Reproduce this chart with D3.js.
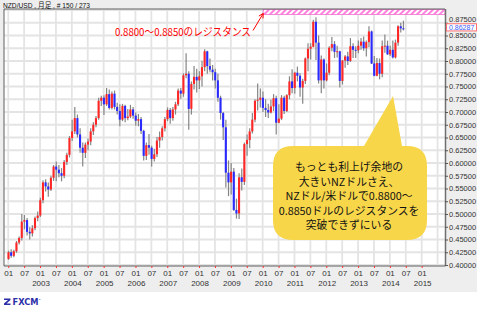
<!DOCTYPE html>
<html><head><meta charset="utf-8">
<script src="https://cdn.jsdelivr.net/npm/d3@7"></script>
<style>body{margin:0;background:#fff}svg{display:block}</style>
</head><body><svg id="c" width="477" height="311"></svg>
<script>
// ---------- data (monthly candles, first = Jan 2002) ----------
const firstYear = 2002;
const opens = [
.4120,.4250,.4180,.4270,.4440,.4530,.4850,.4880,.4650,.4620,.4720,.4920,
.4970,.5270,.5620,.5540,.5480,.5710,.5930,.5870,.5800,.5750,.6020,.6160,
.6490,.6620,.6880,.6560,.6300,.6200,.6360,.6420,.6620,.6750,.6880,.7220,
.7280,.7150,.7350,.7080,.7360,.7100,.7020,.6850,.7120,.6880,.6910,.7050,
.6930,.6830,.6860,.6630,.6140,.6350,.6300,.6080,.6170,.6440,.6510,.6680,
.6860,.7040,.6880,.7050,.7150,.7420,.7360,.7720,.7750,.7060,.7550,.7690,
.7620,.7700,.7880,.8190,.7900,.7830,.7780,.7620,.7280,.6980,.6700,.5810,
.5620,.5830,.5080,.5010,.5720,.5630,.6370,.6450,.6620,.6850,.7220,.7240,
.7280,.7080,.7040,.6990,.7110,.7270,.6790,.6870,.7280,.7020,.7330,.7600,
.7470,.7770,.7710,.7480,.7610,.8050,.8240,.8280,.8770,.8360,.7620,.8030,
.7620,.7770,.8260,.8330,.8180,.8190,.7610,.8010,.8090,.8000,.8290,.8220,
.8210,.8300,.8380,.8250,.8370,.8580,.7950,.7710,.7960,.7750,.8290,.8300,
.8130,.8220,.8070,.8360,.8680,.8640];
const highs = [
.4280,.4310,.4300,.4470,.4560,.5000,.4980,.4920,.4740,.4780,.4950,.5050,
.5320,.5660,.5680,.5620,.5750,.5960,.6030,.5960,.5900,.6060,.6200,.6530,
.6850,.7100,.6950,.6680,.6400,.6400,.6480,.6680,.6800,.6920,.7280,.7320,
.7330,.7470,.7440,.7400,.7420,.7180,.7150,.7160,.7140,.7060,.7140,.7100,
.6990,.6960,.6900,.6650,.6400,.6570,.6340,.6280,.6510,.6620,.6720,.6900,
.7090,.7080,.7100,.7200,.7460,.7470,.7760,.8150,.7800,.7600,.7900,.7850,
.7800,.8000,.8230,.8200,.8050,.7920,.7850,.7750,.7320,.7000,.6850,.6050,
.6000,.5900,.5300,.5800,.5890,.6400,.6560,.6680,.6980,.7250,.7560,.7460,
.7400,.7250,.7160,.7240,.7350,.7320,.7150,.7330,.7320,.7350,.7700,.7840,
.7790,.7890,.7760,.7650,.8070,.8350,.8350,.8810,.8860,.8500,.8110,.8050,
.7950,.8290,.8470,.8390,.8300,.8200,.8020,.8120,.8180,.8450,.8350,.8290,
.8400,.8450,.8480,.8400,.8680,.8600,.8100,.8060,.8050,.8400,.8520,.8400,
.8300,.8400,.8420,.8700,.8750,.8790];
const lows = [
.4100,.4140,.4150,.4240,.4400,.4480,.4700,.4580,.4500,.4560,.4680,.4860,
.4940,.5210,.5440,.5340,.5450,.5650,.5640,.5720,.5640,.5700,.5960,.6110,
.6430,.6570,.6500,.6200,.5930,.6100,.6250,.6350,.6550,.6700,.6850,.7120,
.6940,.7120,.7050,.7050,.7050,.6950,.6720,.6820,.6800,.6840,.6880,.6870,
.6730,.6720,.6570,.6050,.6060,.6160,.5930,.6030,.6120,.6300,.6440,.6620,
.6820,.6770,.6830,.6950,.7120,.7260,.7300,.7660,.6650,.6950,.7440,.7380,
.7450,.7500,.7800,.7750,.7780,.7620,.7460,.7200,.6850,.6450,.5520,.5350,
.5380,.5060,.4910,.4900,.5460,.5570,.6140,.6290,.6580,.6800,.7030,.7090,
.7000,.6900,.6880,.6970,.7020,.6560,.6780,.6840,.6960,.7000,.7250,.7370,
.7360,.7600,.7300,.7160,.7550,.7800,.8030,.8270,.8020,.7560,.7370,.7460,
.7600,.7720,.8190,.8060,.8070,.7480,.7540,.7870,.7920,.7980,.8060,.8060,
.8150,.8220,.8200,.8090,.8270,.7940,.7700,.7700,.7640,.7680,.8160,.8120,
.8100,.8050,.8050,.8300,.8560,.8600];
const closes = [
.4250,.4180,.4270,.4440,.4530,.4850,.4880,.4650,.4620,.4720,.4920,.4970,
.5270,.5620,.5540,.5480,.5710,.5930,.5870,.5800,.5750,.6020,.6160,.6490,
.6620,.6880,.6560,.6300,.6200,.6360,.6420,.6620,.6750,.6880,.7220,.7280,
.7150,.7350,.7080,.7360,.7100,.7020,.6850,.7120,.6880,.6910,.7050,.6930,
.6830,.6860,.6630,.6140,.6350,.6300,.6080,.6170,.6440,.6510,.6680,.6860,
.7040,.6880,.7050,.7150,.7420,.7360,.7720,.7750,.7060,.7550,.7690,.7620,
.7700,.7880,.8190,.7900,.7830,.7780,.7620,.7280,.6980,.6700,.5810,.5620,
.5830,.5080,.5010,.5720,.5630,.6370,.6450,.6620,.6850,.7220,.7240,.7280,
.7080,.7040,.6990,.7110,.7270,.6790,.6870,.7280,.7020,.7330,.7600,.7470,
.7770,.7710,.7480,.7610,.8050,.8240,.8280,.8770,.8360,.7620,.8030,.7620,
.7770,.8260,.8330,.8180,.8190,.7610,.8010,.8090,.8000,.8290,.8220,.8210,
.8300,.8380,.8250,.8370,.8580,.7950,.7710,.7960,.7750,.8290,.8300,.8130,
.8220,.8070,.8360,.8680,.8640,.8629];

const yTicks = [0.400,0.425,0.450,0.475,0.500,0.525,0.550,0.575,0.600,0.625,
                0.650,0.675,0.700,0.725,0.750,0.775,0.800,0.825,0.850,0.875];
const monthTickLabels = ["01","07"];
const yearLabels = ["2003","2004","2005","2006","2007","2008","2009","2010","2011","2012","2013","2014","2015"];
const lastPrice = 0.86287;
const titleText = "NZD/USD , 月足 , # 150 / 273";
const resistanceNote = "0.8800～0.8850のレジスタンス";
const resistanceBand = [0.8912, 0.9010];   // band as drawn at the top of the chart
const bandStartIndex = 96.2;
const calloutLines = ["もっとも利上げ余地の","大きいNZドルさえ、","NZドル/米ドルで0.8800～","0.8850ドルのレジスタンスを","突破できずにいる"];
const calloutAnchor = {index: 145.2, value: 0.7315};

// ---------- layout ----------
const W = 477, H = 311;
const P = {left: 4, right: 445, top: 9, bottom: 266};
const svg = d3.select("#c");
const x = d3.scaleLinear().domain([-1.6, 164.8]).range([P.left, P.right]);
const y = d3.scaleLinear().domain([0.4, 0.8]).range([265, 61]);
const data = opens.map((o, i) => ({i, o, h: highs[i], l: lows[i], c: closes[i]}));
const sans = "Liberation Sans, Arial, sans-serif";
const cjk = "Noto Sans CJK JP, sans-serif";

// backgrounds
svg.append("rect").attr("width", W).attr("height", 292).attr("fill", "#eeeeee");
svg.append("rect").attr("y", 292).attr("width", W).attr("height", H - 292).attr("fill", "#ffffff");
svg.append("rect").attr("x", P.left).attr("y", P.top).attr("width", P.right - P.left)
   .attr("height", P.bottom - P.top).attr("fill", "#ffffff");

const defs = svg.append("defs");
const pat = defs.append("pattern").attr("id", "hatch").attr("patternUnits", "userSpaceOnUse")
  .attr("width", 4).attr("height", 4).attr("patternTransform", "rotate(45)");
pat.append("rect").attr("width", 4).attr("height", 4).attr("fill", "#ffffff");
pat.append("rect").attr("width", 2).attr("height", 4).attr("fill", "#ff80dd");
defs.append("clipPath").attr("id", "plotclip").append("rect")
  .attr("x", P.left).attr("y", P.top).attr("width", P.right - P.left).attr("height", P.bottom - P.top);

// grid
const tickIdx = d3.range(0, 157, 6);
const grid = svg.append("g").attr("clip-path", "url(#plotclip)");
grid.selectAll("line.v").data(d3.range(0, 165, 6)).join("line")
  .attr("x1", d => x(d)).attr("x2", d => x(d)).attr("y1", P.top).attr("y2", P.bottom)
  .attr("stroke", "#e4e4e4").attr("stroke-width", 1.8);
grid.selectAll("line.h").data(yTicks.concat([0.9])).join("line")
  .attr("x1", P.left).attr("x2", P.right).attr("y1", d => y(d)).attr("y2", d => y(d))
  .attr("stroke", "#e4e4e4").attr("stroke-width", 1.8);

// resistance band
svg.append("rect").attr("x", x(bandStartIndex)).attr("y", y(resistanceBand[1]))
  .attr("width", P.right - x(bandStartIndex)).attr("height", y(resistanceBand[0]) - y(resistanceBand[1]))
  .attr("fill", "url(#hatch)").attr("stroke", "#f070d0").attr("stroke-width", 0.8);

// candles
const cg = svg.append("g").attr("clip-path", "url(#plotclip)");
cg.selectAll("line.wick").data(data).join("line")
  .attr("x1", d => x(d.i) + 0.3).attr("x2", d => x(d.i) + 0.3)
  .attr("y1", d => y(d.h)).attr("y2", d => y(d.l))
  .attr("stroke", "#858585").attr("stroke-width", 1.2);
cg.selectAll("rect.body").data(data).join("rect")
  .attr("x", d => x(d.i) - 0.8).attr("width", 2.1)
  .attr("y", d => y(Math.max(d.o, d.c)))
  .attr("height", d => Math.max(1, Math.abs(y(d.o) - y(d.c))))
  .attr("fill", d => d.c >= d.o ? "#ff2626" : "#2a2aff");

// frame
const frame = svg.append("g").attr("stroke", "#606060").attr("stroke-width", 1);
frame.append("line").attr("x1", P.left).attr("x2", P.left).attr("y1", P.top).attr("y2", P.bottom);
frame.append("line").attr("x1", P.left).attr("x2", P.right).attr("y1", P.top).attr("y2", P.top);
frame.append("line").attr("x1", P.left).attr("x2", P.right + 0.5).attr("y1", P.bottom).attr("y2", P.bottom);

// right axis
const yAxis = svg.append("g").attr("transform", `translate(${P.right},0)`)
  .call(d3.axisRight(y).tickValues(yTicks).tickFormat(d3.format(".5f")).tickSize(3).tickPadding(1));
yAxis.select(".domain").attr("stroke", "#707070").attr("stroke-width", 1.5)
  .attr("d", `M0.5,${P.top}V${P.bottom}`);
yAxis.selectAll(".tick line").attr("stroke", "#555");
yAxis.selectAll("text").attr("font-family", sans).attr("font-size", 7.5).attr("fill", "#333");
// the top label is nudged up to make room for the last-price box, as in the source
yAxis.selectAll(".tick").filter(d => Math.abs(d - 0.875) < 1e-6)
  .select("text").attr("y", -3.2);

// last price label
const lpY = y(lastPrice) - 1.6;
const lp = svg.append("g").attr("transform", `translate(${P.right + 1},${lpY})`);
lp.append("rect").attr("x", 0.5).attr("y", -3.6).attr("width", 30).attr("height", 7.2)
  .attr("fill", "#ffffff").attr("stroke", "#ff7070").attr("stroke-width", 1);
lp.append("text").attr("x", 3).attr("y", 0).attr("dy", "0.32em").text(d3.format(".5f")(lastPrice))
  .attr("font-family", sans).attr("font-size", 7).attr("fill", "#4060ff");

// bottom axis
const xAxis = svg.append("g").attr("transform", `translate(0,${P.bottom})`)
  .call(d3.axisBottom(x).tickValues(tickIdx).tickFormat(d => monthTickLabels[(d / 6) % 2]).tickSize(2).tickPadding(2));
xAxis.select(".domain").remove();
xAxis.selectAll(".tick line").attr("stroke", "#ff3030");
xAxis.selectAll("text").attr("font-family", sans).attr("font-size", 8).attr("fill", "#333");
svg.append("g").selectAll("text").data(yearLabels).join("text")
  .attr("x", (d, i) => x((i + 1) * 12) + 1).attr("y", 286).attr("text-anchor", "middle")
  .attr("font-family", sans).attr("font-size", 8).attr("fill", "#333")
  .text(d => d);

// title
svg.append("text").attr("x", 3).attr("y", 8).text(titleText)
  .attr("font-family", "Liberation Sans, Noto Sans CJK JP, sans-serif").attr("font-size", 8).attr("fill", "#111")
  .attr("textLength", 87).attr("lengthAdjust", "spacingAndGlyphs");

// resistance note + arrow
const noteX = 115, noteY = 35.5;
svg.append("text").attr("x", noteX).attr("y", noteY).text(resistanceNote)
  .attr("font-family", cjk).attr("font-size", 11).attr("fill", "#ff0000")
  .attr("textLength", 136).attr("lengthAdjust", "spacingAndGlyphs");
const ax0 = noteX + 138, ay0 = noteY - 5;
const ax1 = x(bandStartIndex), ay1 = y(resistanceBand[0]) - 1;
svg.append("line").attr("x1", ax0).attr("y1", ay0).attr("x2", ax1).attr("y2", ay1)
  .attr("stroke", "#ff0000").attr("stroke-width", 1);
const ang = Math.atan2(ay1 - ay0, ax1 - ax0);
const hl = 5;
svg.append("path").attr("d",
  `M${ax1 - hl * Math.cos(ang - 0.5)},${ay1 - hl * Math.sin(ang - 0.5)}L${ax1},${ay1}L${ax1 - hl * Math.cos(ang + 0.5)},${ay1 - hl * Math.sin(ang + 0.5)}`)
  .attr("fill", "none").attr("stroke", "#ff0000").attr("stroke-width", 1);

// callout
const bx0 = 273, bx1 = 427, by0 = 146, by1 = 240, r = 20;
const tipX = x(calloutAnchor.index), tipY = y(calloutAnchor.value);
const calloutPath = `M${bx0 + r},${by0}L364,${by0}L${tipX},${tipY}L402,${by0}L${bx1 - r},${by0}` +
  `Q${bx1},${by0} ${bx1},${by0 + r}L${bx1},${by1 - r}Q${bx1},${by1} ${bx1 - r},${by1}` +
  `L${bx0 + r},${by1}Q${bx0},${by1} ${bx0},${by1 - r}L${bx0},${by0 + r}Q${bx0},${by0} ${bx0 + r},${by0}Z`;
svg.append("path").attr("d", calloutPath).attr("fill", "#f8d64a");
const ct = svg.append("text").attr("text-anchor", "middle")
  .attr("font-family", cjk).attr("font-size", 10.8).attr("fill", "#111");
ct.selectAll("tspan").data(calloutLines).join("tspan")
  .attr("x", 349).attr("y", (d, i) => 171 + i * 14.5).text(d => d);

// FXCM logo
const logo = svg.append("g").attr("transform", "translate(4,298)");
logo.append("path").attr("d", "M0,0.5L6.5,0.5L6.5,2L2.5,5.5L6.5,5.5L6.5,7L0,7L0,5.5L4,2L0,2Z").attr("fill", "#2b2fa8");
logo.append("text").attr("x", 8.5).attr("y", 7).text("FXCM")
  .attr("font-family", "DejaVu Sans, sans-serif").attr("font-weight", "bold").attr("font-size", 8)
  .attr("fill", "#2b2fa8").attr("textLength", 26).attr("lengthAdjust", "spacingAndGlyphs");
logo.append("text").attr("x", 35).attr("y", 3).text("•").attr("font-size", 4).attr("fill", "#2b2fa8");
</script></body></html>
